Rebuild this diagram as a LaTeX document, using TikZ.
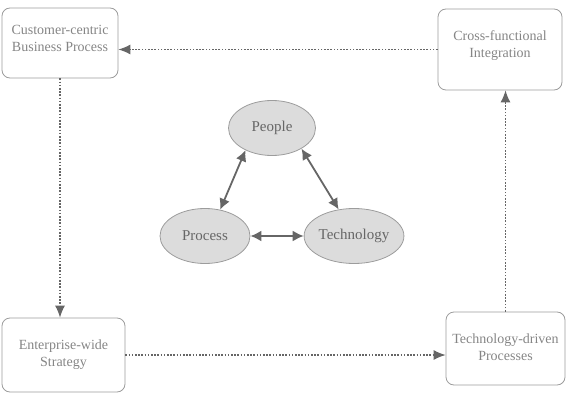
\documentclass[tikz,border=0pt]{standalone}
\usepackage{fontspec}
\setmainfont{Liberation Serif}
\usetikzlibrary{shapes.geometric,arrows.meta}
\definecolor{linegray}{HTML}{9C9C9C}
\definecolor{textgray}{HTML}{858585}
\definecolor{fillgray}{HTML}{DCDCDC}
\definecolor{arrowgray}{HTML}{666666}

\begin{document}
\begin{tikzpicture}[x=1pt,y=-1pt,
	stage/.style={draw=linegray,line width=0.8pt,rounded corners=8pt,inner sep=0pt,
		align=center,text=textgray,font=\fontsize{14}{17}\selectfont},
	factor/.style={ellipse,draw=linegray,line width=0.8pt,fill=fillgray,inner sep=0pt,
		minimum height=55pt,text=arrowgray,font=\fontsize{15}{18}\selectfont},
	flow/.style={draw=arrowgray,line width=1.2pt,dash pattern=on 1.6pt off 1.6pt,
		-{Latex[length=12pt,width=10pt]}},
	link/.style={draw=arrowgray,line width=1.8pt,
		{Latex[length=11pt,width=11pt]}-{Latex[length=11pt,width=11pt]}}]
	\useasboundingbox (0,0) rectangle (567,401);
	% the four corner stages
	\node[stage,minimum width=116pt,minimum height=70pt] (customer) at (60,43)
		{Customer-centric\\Business Process\\[-7pt]};
	\node[stage,minimum width=124pt,minimum height=81pt] (cross) at (500,49.5)
		{Cross-functional\\Integration\\[-6pt]};
	\node[stage,minimum width=123pt,minimum height=74pt] (enterprise) at (63.5,355)
		{Enterprise-wide\\Strategy\\[-13pt]};
	\node[stage,minimum width=119pt,minimum height=73pt] (techdriven) at (505.5,348.5)
		{Technology-driven\\Processes\\[-14pt]};
	\draw[flow] (customer.south) -- (customer.south |- enterprise.north);
	\draw[flow] (enterprise.east) -- (enterprise.east -| techdriven.west);
	\draw[flow] (techdriven.north) -- (techdriven.north |- cross.south);
	\draw[flow] (cross.west) -- (customer.east |- cross.west);
	% the triangle in the middle
	\node[factor,minimum width=87pt] (people) at (272,128) {People};
	\node[factor,minimum width=90pt] (process) at (205,236) {Process};
	\node[factor,minimum width=92pt] (technology) at (354,236) {Technology};
	\draw[link] (people.220) -- (process.60);
	\draw[link] (people.-35) -- (technology.120);
	\draw[link] (process.east) -- (technology.west);
\end{tikzpicture}
\end{document}
